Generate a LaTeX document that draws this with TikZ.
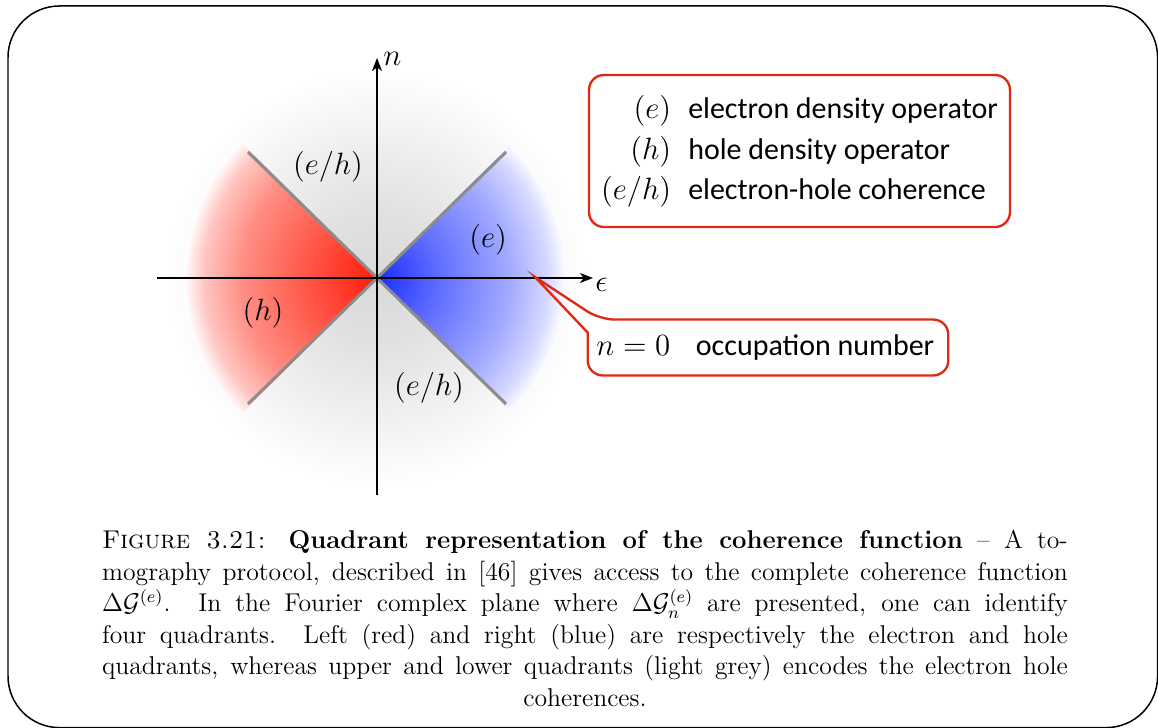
\documentclass[tikz,border=0pt]{standalone}
\usepackage{fontspec}
\newfontfamily\carlito{Carlito}
\usetikzlibrary{arrows.meta,calc}
\definecolor{myred}{RGB}{255,28,8}
\definecolor{myblue}{RGB}{25,45,255}
\definecolor{boxred}{RGB}{222,42,20}
\definecolor{linegray}{RGB}{140,140,140}
\pgfdeclareradialshading{graydisc}{\pgfpoint{0bp}{0bp}}{color(0bp)=(black!15); color(7.5bp)=(black!12); color(15bp)=(black!7); color(21.25bp)=(black!2.5); color(25bp)=(white); color(50bp)=(white)}
\pgfdeclareradialshading{redwedge}{\pgfpoint{0bp}{0bp}}{color(0bp)=(myred); color(8.5bp)=(myred!76!white); color(17.5bp)=(myred!50!white); color(22.5bp)=(myred!25!white); color(25bp)=(white); color(50bp)=(white)}
\pgfdeclareradialshading{bluewedge}{\pgfpoint{0bp}{0bp}}{color(0bp)=(myblue); color(8.5bp)=(myblue!68!white); color(17.5bp)=(myblue!40!white); color(22.5bp)=(myblue!18!white); color(25bp)=(white); color(50bp)=(white)}
\begin{document}
\begin{tikzpicture}[x=0.467pt,y=-0.467pt,
  axis/.style={line width=1pt,-{Stealth[length=6pt,width=4.6pt,inset=1.6pt]}},
  diag/.style={line width=1.4pt,draw=linegray},
  qlabel/.style={font=\fontsize{14}{17}\selectfont,inner sep=0pt},
  redline/.style={draw=boxred,line width=1.1pt},
  redbox/.style={redline,rounded corners=7pt}]
\useasboundingbox (0,0) rectangle (1158,728);
\draw[line width=0.7pt,rounded corners=24pt] (8,6) rectangle (1157.6,727.6);
\coordinate (O) at (377,278);
\shade[shading=graydisc] (O) circle (210);
\begin{scope}
  \clip (O) -- ++(-260,-260) -- ++(0,520) -- cycle;
  \shade[shading=redwedge] (O) circle (193);
\end{scope}
\begin{scope}
  \clip (O) -- ++(260,-260) -- ++(0,520) -- cycle;
  \shade[shading=bluewedge] (O) circle (190);
\end{scope}
\coordinate (ul) at (248,152);
\coordinate (lr) at (506,404);
\coordinate (ur) at (506,152);
\coordinate (ll) at (248,404);
\draw[diag] (ul) -- (lr);
\draw[diag] (ur) -- (ll);
\coordinate (xl) at (157,278);
\coordinate (xr) at (593,278);
\coordinate (yb) at (377,495);
\coordinate (yt) at (377,58);
\draw[axis] (xl) -- (xr);
\draw[axis] (yb) -- (yt);
\node[qlabel,anchor=west] (nlab) at (383,59) {$n$};
\node[qlabel,anchor=west] (eps) at (595,285) {$\epsilon$};
\node[qlabel] (ehup) at (328,167) {$(e/h)$};
\node[qlabel] (elab) at (488,240) {$(e)$};
\node[qlabel] (hlab) at (263,313) {$(h)$};
\node[qlabel] (ehdn) at (429,388) {$(e/h)$};
\node[redbox,minimum width=196.6pt,minimum height=71pt,inner sep=0pt] (legend) at (799.5,151)
  {\fontsize{14}{19}\selectfont\begin{tabular}{@{}r@{\hspace{8pt}}l@{}}
   $(e)$ & \carlito electron density operator\\
   $(h)$ & \carlito hole density operator\\
   $(e/h)$ & \carlito electron-hole coherence
   \end{tabular}};
\node[inner sep=0pt,minimum width=168pt,minimum height=25.7pt,font=\fontsize{14}{17}\selectfont] (occ) at (768,347.5)
  {\hspace*{-2.5pt}$n=0$\hspace{12pt}{\carlito occupation number}};
\coordinate (ptr) at (535,277);
\draw[redline] ($(occ.north west)+(12,0)$) -- (ptr) -- ($(occ.north west)+(0,13)$)
  [rounded corners=7pt] -- (occ.south west) -- (occ.south east) -- (occ.north east) -- cycle;
\node[anchor=north,text width=451pt,inner sep=0pt,align=justify,font=\fontsize{12}{14.7}\selectfont] (cap) at (585,530)
  {{\parfillskip=0pt \textsc{Figure 3.21:} \textbf{Quadrant representation of the coherence function} -- A to-\linebreak
  mography protocol, described in [46] gives access to the complete coherence function\linebreak
  $\Delta\mathcal{G}^{(e)}$. In the Fourier complex plane where $\Delta\mathcal{G}^{(e)}_n$ are presented, one can identify\linebreak
  four quadrants. Left (red) and right (blue) are respectively the electron and hole\linebreak
  quadrants, whereas upper and lower quadrants (light grey) encodes the electron hole\par}
  {\centering coherences.\par}};
\end{tikzpicture}
\end{document}
